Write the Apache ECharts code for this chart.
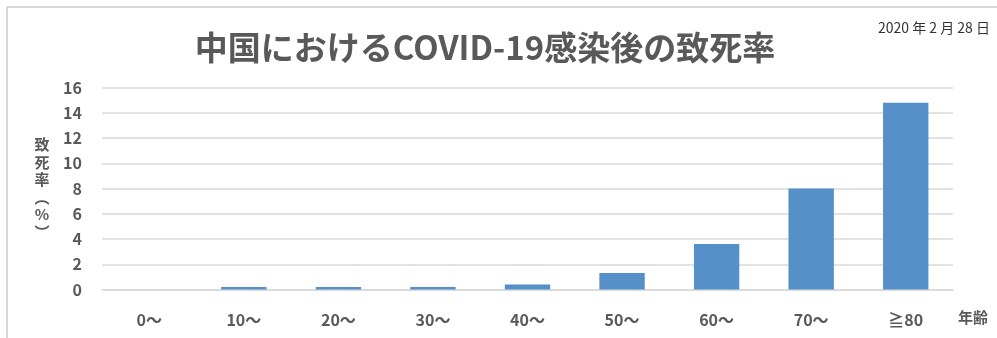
<!DOCTYPE html>
<html><head><meta charset="utf-8">
<script src="https://cdn.jsdelivr.net/npm/echarts@6/dist/echarts.min.js"></script>
<style>html,body{margin:0;padding:0;background:#fff}#c{width:997px;height:338px}</style>
</head><body><div id="c"></div>
<script>
const categories = ['0～','10～','20～','30～','40～','50～','60～','70～','≧80'];
const fatality = [0, 0.2, 0.2, 0.2, 0.4, 1.3, 3.6, 8.0, 14.8];
const yTicks = [0, 2, 4, 6, 8, 10, 12, 14, 16];
const titleText = '中国におけるCOVID-19感染後の致死率';
const dateText = '2020 年 2 月 28 日';
const yName = '致\n死\n率\n︵\n%\n︶';
const xName = '年齢';

const FONT = '"Noto Sans CJK JP", "Noto Sans", sans-serif';
const chart = echarts.init(document.getElementById('c'), null, {renderer: 'canvas'});
chart.setOption({
  animation: false,
  backgroundColor: '#fff',
  title: {
    text: titleText, left: 480, top: 26, textAlign: 'center',
    textStyle: {fontFamily: FONT, fontSize: 33, fontWeight: 'bold', color: '#595959'}
  },
  graphic: [
    {type: 'line', shape: {x1: 7, y1: 7, x2: 997, y2: 7}, style: {stroke: '#c8c8c8', lineWidth: 1.5}},
    {type: 'line', shape: {x1: 7, y1: 7, x2: 7, y2: 338}, style: {stroke: '#c8c8c8', lineWidth: 1.5}},
    {type: 'text', right: 7, top: 21, style: {text: dateText, font: '14px ' + FONT, fill: '#333'}}
  ],
  grid: {left: 102, right: 44, top: 87.5, bottom: 48.5, containLabel: false},
  xAxis: {
    type: 'category', data: categories,
    axisLine: {show: true, lineStyle: {color: '#d9d9d9', width: 1.5}},
    axisTick: {show: false},
    axisLabel: {margin: 22, fontFamily: FONT, fontSize: 16, fontWeight: 'bold', color: '#595959'},
    name: xName, nameLocation: 'end', nameGap: 5,
    nameTextStyle: {fontFamily: FONT, fontSize: 15, fontWeight: 'bold', color: '#595959', verticalAlign: 'top', padding: [20, 0, 0, 0]}
  },
  yAxis: {
    type: 'value', min: yTicks[0], max: yTicks[yTicks.length - 1], interval: 2,
    axisLine: {show: false}, axisTick: {show: false},
    splitLine: {lineStyle: {color: '#d9d9d9', width: 1.5}},
    axisLabel: {margin: 20, fontFamily: FONT, fontSize: 16, fontWeight: 'bold', color: '#595959'},
    name: yName, nameLocation: 'middle', nameRotate: 0, nameGap: 60,
    nameTextStyle: {fontFamily: FONT, fontSize: 15, fontWeight: 'bold', color: '#595959', lineHeight: 17.5, align: 'center'}
  },
  series: [{
    type: 'bar', data: fatality, barWidth: '48%',
    itemStyle: {color: '#5590c8'}
  }]
});
</script></body></html>
